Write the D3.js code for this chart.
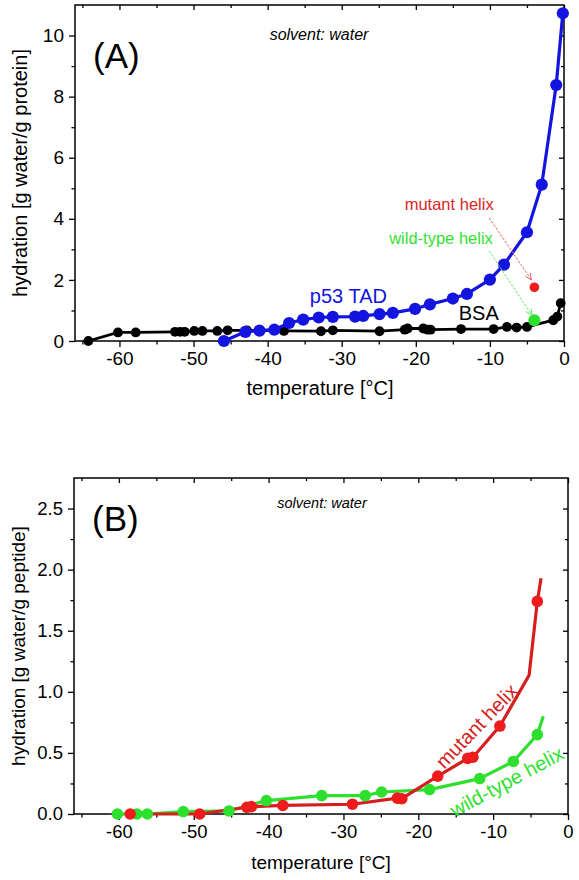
<!DOCTYPE html>
<html>
<head>
<meta charset="utf-8">
<script src="https://cdn.jsdelivr.net/npm/d3@7"></script>
<style>
  html, body { margin: 0; padding: 0; background: #fff; }
  svg text { font-family: "Liberation Sans", Arial, sans-serif; }
</style>
</head>
<body>
<svg id="chart" width="579" height="880"></svg>
<script>
// ---------------- DATA ----------------
// Panel A
const bsaT = [-64.2, -60.2, -57.8, -52.5, -51.8, -51.2, -49.9, -48.8, -46.8, -45.4, -42.8, -37.8, -32.8, -31.2, -24.9, -21.5, -21.1, -19.0, -18.4, -18.0, -13.9, -9.5, -7.7, -6.4, -5.0, -1.45, -0.9, -0.45];
const bsaH = [0, 0.28, 0.28, 0.30, 0.30, 0.30, 0.33, 0.33, 0.33, 0.35, 0.35, 0.33, 0.32, 0.35, 0.32, 0.37, 0.41, 0.41, 0.37, 0.37, 0.39, 0.39, 0.46, 0.44, 0.46, 0.68, 0.80, 1.24];
const p53T = [-45.9, -43.0, -41.1, -39.1, -37.1, -35.2, -33.1, -31.2, -28.2, -27.1, -24.9, -23.1, -20.1, -18.1, -15.0, -13.1, -10.0, -8.1, -5.0, -3.0, -1.05, -0.16];
const p53H = [0, 0.30, 0.34, 0.37, 0.59, 0.70, 0.77, 0.79, 0.80, 0.82, 0.88, 0.92, 1.05, 1.20, 1.39, 1.54, 2.01, 2.50, 3.56, 5.12, 8.38, 10.73];
const mutantPointA = [-4.0, 1.76];
const wildPointA = [-4.0, 0.68];

// Panel B
const mutantT = [-58.5, -49.2, -42.9, -42.3, -38.1, -28.8, -22.8, -22.2, -17.4, -13.4, -12.7, -9.1, -4.1];
const mutantH = [0, 0, 0.055, 0.06, 0.07, 0.08, 0.13, 0.125, 0.31, 0.455, 0.465, 0.72, 1.74];
const mutantLineT = [-58.5, -49.2, -42.9, -42.3, -38.1, -28.8, -22.8, -22.2, -17.4, -13.4, -12.7, -9.1, -5.2, -4.1, -3.6];
const mutantLineH = [0, 0, 0.055, 0.06, 0.07, 0.08, 0.13, 0.125, 0.31, 0.455, 0.465, 0.72, 1.135, 1.74, 1.93];
const wildT = [-60.2, -57.6, -56.2, -51.4, -45.3, -40.3, -32.9, -27.1, -24.9, -18.5, -11.8, -7.3, -4.1];
const wildH = [0, 0, 0, 0.02, 0.025, 0.11, 0.15, 0.15, 0.18, 0.20, 0.29, 0.43, 0.65];
const wildLineT = [-60.2, -57.6, -56.2, -51.4, -45.3, -40.3, -32.9, -27.1, -24.9, -18.5, -11.8, -7.3, -4.1, -3.3];
const wildLineH = [0, 0, 0, 0.02, 0.025, 0.11, 0.15, 0.15, 0.18, 0.20, 0.29, 0.43, 0.65, 0.80];

// Ticks
const xMajor = [-60, -50, -40, -30, -20, -10, 0];
const xMinor = [-65, -55, -45, -35, -25, -15, -5];
const yMajorA = [0, 2, 4, 6, 8, 10];
const yMinorA = [1, 3, 5, 7, 9];
const yMajorB = [0, 0.5, 1.0, 1.5, 2.0, 2.5];
const yMinorB = [0.25, 0.75, 1.25, 1.75, 2.25];

// Colours
const BLUE = "#1414e0", BLACK = "#000000", RED = "#ee1c1c", DARKRED = "#d51e1e", GREEN = "#2ee02e";

const svg = d3.select("#chart");

function axes(g, x, y, f, yMaj, yMin, yFmt, fs) {
  const ax = (gen, tx, ty) => g.append("g").attr("transform", `translate(${tx},${ty})`).call(gen);
  ax(d3.axisBottom(x).tickValues(xMajor).tickSize(6).tickSizeOuter(0).tickPadding(5).tickFormat(d => String(d)), 0, f.b);
  ax(d3.axisBottom(x).tickValues(xMinor).tickSize(3.5).tickSizeOuter(0).tickFormat(""), 0, f.b);
  ax(d3.axisTop(x).tickValues(xMajor).tickSize(-5).tickSizeOuter(0).tickFormat(""), 0, f.t);
  ax(d3.axisTop(x).tickValues(xMinor).tickSize(-3).tickSizeOuter(0).tickFormat(""), 0, f.t);
  ax(d3.axisLeft(y).tickValues(yMaj).tickSize(6).tickSizeOuter(0).tickPadding(5).tickFormat(yFmt), f.l, 0);
  ax(d3.axisLeft(y).tickValues(yMin).tickSize(3.5).tickSizeOuter(0).tickFormat(""), f.l, 0);
  ax(d3.axisRight(y).tickValues(yMaj).tickSize(-5).tickSizeOuter(0).tickFormat(""), f.r, 0);
  ax(d3.axisRight(y).tickValues(yMin).tickSize(-3).tickSizeOuter(0).tickFormat(""), f.r, 0);
  g.selectAll(".domain").remove();
  g.selectAll(".tick line").attr("stroke", "#000").attr("stroke-width", 1.3);
  g.selectAll(".tick text").attr("font-size", fs).attr("fill", "#000")
    .attr("font-family", '"Liberation Sans", Arial, sans-serif');
  g.append("rect").attr("x", f.l).attr("y", f.t).attr("width", f.r - f.l).attr("height", f.b - f.t)
    .attr("fill", "none").attr("stroke", "#000").attr("stroke-width", 1.5);
}

function series(g, x, y, T, H, color, lw) {
  const line = d3.line().x((d, i) => x(T[i])).y((d, i) => y(H[i]));
  g.append("path").attr("d", line(T)).attr("fill", "none").attr("stroke", color)
    .attr("stroke-width", lw).attr("stroke-linejoin", "round");
}
function markers(g, x, y, T, H, color, r) {
  g.append("g").selectAll("circle").data(T).join("circle")
    .attr("cx", (d, i) => x(T[i])).attr("cy", (d, i) => y(H[i])).attr("r", r).attr("fill", color);
}
function arrow(g, x, y, x0, y0, x1, y1, color) {
  const px0 = x(x0), py0 = y(y0), px1 = x(x1), py1 = y(y1);
  g.append("line").attr("x1", px0).attr("y1", py0).attr("x2", px1).attr("y2", py1)
    .attr("stroke", color).attr("stroke-width", 1).attr("stroke-dasharray", "2.5,1.5");
  const a = Math.atan2(py1 - py0, px1 - px0), L = 7, w = 0.42;
  const pts = [[px1 - L * Math.cos(a - w), py1 - L * Math.sin(a - w)], [px1, py1], [px1 - L * Math.cos(a + w), py1 - L * Math.sin(a + w)]];
  g.append("polyline").attr("points", pts.map(p => p.join(",")).join(" "))
    .attr("fill", "none").attr("stroke", color).attr("stroke-width", 1);
}

// ---------------- PANEL A ----------------
{
  const f = { l: 75, r: 564, t: 5, b: 341 };
  const x = d3.scaleLinear().domain([-66, 0]).range([f.l, f.r]);
  const y = d3.scaleLinear().domain([0, 11]).range([f.b, f.t]);
  const g = svg.append("g");
  axes(g, x, y, f, yMajorA, yMinorA, d => String(d), 19);

  series(g, x, y, bsaT, bsaH, BLACK, 2.8);
  markers(g, x, y, bsaT, bsaH, BLACK, 4.9);
  series(g, x, y, p53T, p53H, BLUE, 3.2);
  markers(g, x, y, p53T, p53H, BLUE, 6.1);
  markers(g, x, y, [mutantPointA[0]], [mutantPointA[1]], RED, 4.8);
  markers(g, x, y, [wildPointA[0]], [wildPointA[1]], GREEN, 6.1);

  arrow(g, x, y, -10.1, 4.03, -4.4, 2.0, "#f06060");
  arrow(g, x, y, -10.1, 2.95, -4.3, 0.84, "#60e060");

  g.append("text").attr("x", x(-15.5)).attr("y", y(4.29)).attr("text-anchor", "middle")
    .attr("font-size", 16.5).attr("fill", "#e02424").text("mutant helix");
  g.append("text").attr("x", x(-16.6)).attr("y", y(3.18)).attr("text-anchor", "middle")
    .attr("font-size", 16.5).attr("fill", "#33e033").text("wild-type helix");
  g.append("text").attr("x", x(-34.3)).attr("y", y(1.24)).attr("font-size", 20)
    .attr("fill", BLUE).text("p53 TAD");
  g.append("text").attr("x", x(-14.2)).attr("y", y(0.69)).attr("font-size", 20)
    .attr("fill", BLACK).text("BSA");

  g.append("text").attr("x", 93).attr("y", 68).attr("font-size", 35).text("(A)");
  g.append("text").attr("x", 319).attr("y", 40).attr("text-anchor", "middle")
    .attr("font-size", 16).attr("font-style", "italic").text("solvent: water");

  g.append("text").attr("transform", `translate(27,${(f.t + f.b) / 2}) rotate(-90)`)
    .attr("text-anchor", "middle").attr("font-size", 20).text("hydration [g water/g protein]");
  g.append("text").attr("x", 320).attr("y", 395).attr("text-anchor", "middle")
    .attr("font-size", 20).text("temperature [°C]");
}

// ---------------- PANEL B ----------------
{
  const f = { l: 74, r: 568, t: 478, b: 814 };
  const x = d3.scaleLinear().domain([-66, 0]).range([f.l, f.r]);
  const y = d3.scaleLinear().domain([0, 2.75]).range([f.b, f.t]);
  const g = svg.append("g");
  axes(g, x, y, f, yMajorB, yMinorB, d3.format(".1f"), 18.5);

  series(g, x, y, wildLineT, wildLineH, GREEN, 3.2);
  series(g, x, y, mutantLineT, mutantLineH, DARKRED, 3.2);
  markers(g, x, y, wildT, wildH, GREEN, 5.8);
  markers(g, x, y, mutantT, mutantH, RED, 5.8);

  g.append("text").attr("transform", `translate(${x(-12.2)},${y(0.72)}) rotate(-46)`)
    .attr("text-anchor", "middle").attr("dy", "0.35em").attr("font-size", 20)
    .attr("fill", DARKRED).text("mutant helix");
  g.append("text").attr("transform", `translate(${x(-8.2)},${y(0.265)}) rotate(-28.4)`)
    .attr("text-anchor", "middle").attr("dy", "0.35em").attr("font-size", 20)
    .attr("fill", GREEN).text("wild-type helix");

  g.append("text").attr("x", 92).attr("y", 531).attr("font-size", 35).text("(B)");
  g.append("text").attr("x", 322).attr("y", 508).attr("text-anchor", "middle")
    .attr("font-size", 14.5).attr("font-style", "italic").text("solvent: water");

  g.append("text").attr("transform", `translate(25,${(f.t + f.b) / 2}) rotate(-90)`)
    .attr("text-anchor", "middle").attr("font-size", 19).text("hydration [g water/g peptide]");
  g.append("text").attr("x", 321).attr("y", 869).attr("text-anchor", "middle")
    .attr("font-size", 19).text("temperature [°C]");
}
</script>
</body>
</html>
